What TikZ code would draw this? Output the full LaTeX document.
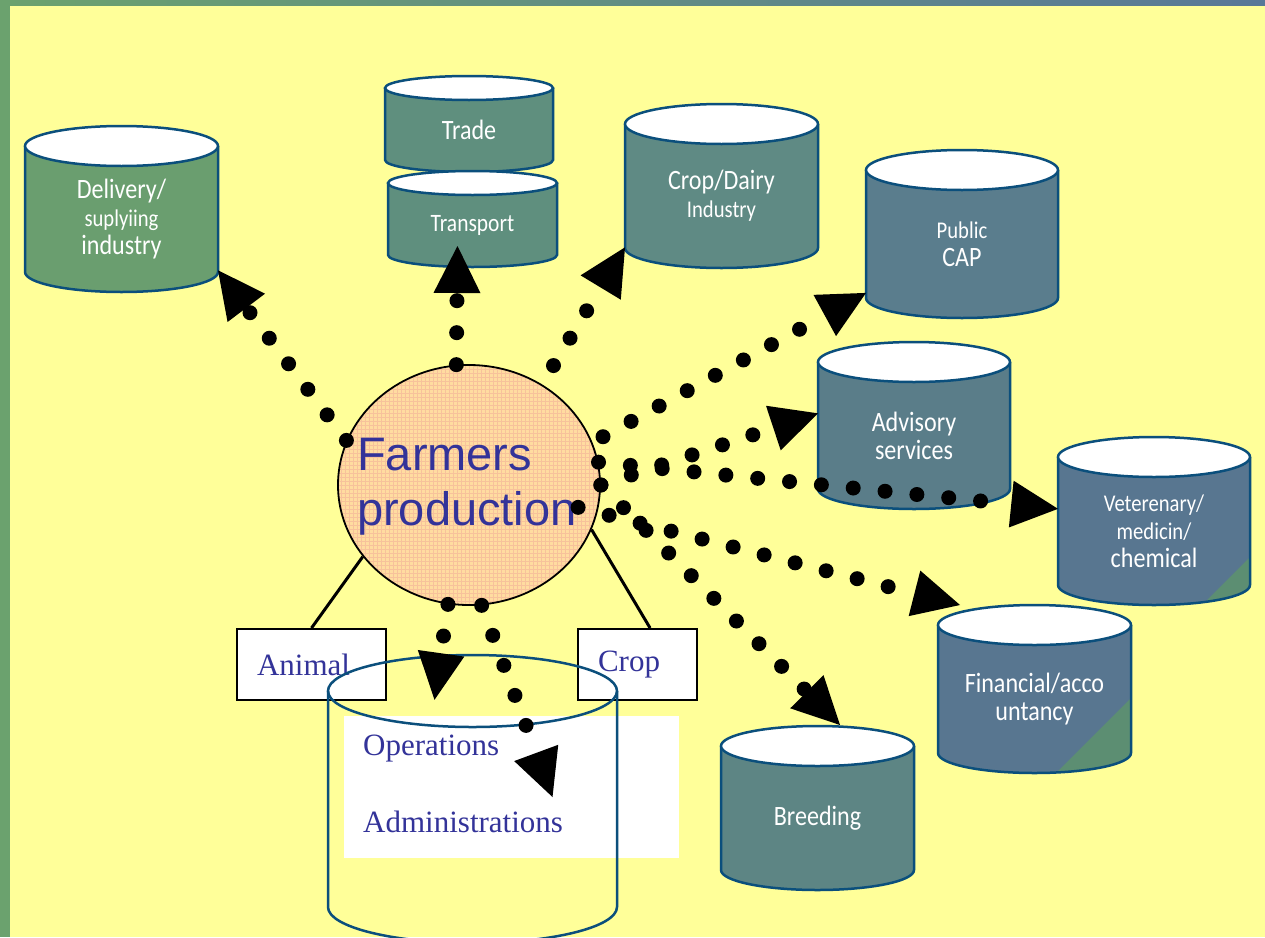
\documentclass[tikz,border=0pt]{standalone}
\usepackage{fontspec}
\setmainfont{Liberation Serif}
\newfontfamily\cylfont[FakeStretch=0.86]{Carlito}
\newfontfamily\arialfont{Liberation Sans}
\usetikzlibrary{shapes.geometric,arrows.meta}

\definecolor{bgyellow}{HTML}{FFFF99}
\definecolor{stripgreen}{HTML}{6BA26E}
\definecolor{stripblue}{HTML}{587898}
\definecolor{cylblue}{HTML}{0B4F7C}
\definecolor{textblue}{HTML}{333399}
\definecolor{delivgreen}{HTML}{6A9E6F}
\definecolor{tradeteal}{HTML}{5F8F7E}
\definecolor{cropteal}{HTML}{5F8A84}
\definecolor{capblue}{HTML}{5A7D8D}
\definecolor{advblue}{HTML}{5A7D89}
\definecolor{vetblue}{HTML}{587690}
\definecolor{breedteal}{HTML}{5D8584}
\definecolor{cornergreen}{HTML}{5C8E72}
\definecolor{farmfill}{HTML}{FFDCA0}
\definecolor{farmgrid}{HTML}{F7C29B}

% cylinder: [extra clipped drawing]{name}{centre x}{x radius}{top centre y}{bottom centre y}{y radius}{body colour}{label}
\newcommand{\cylbox}[9][]{%
  \fill[#8] (#3-#4,#5) -- (#3-#4,#6) arc[start angle=180,end angle=360,x radius=#4pt,y radius=#7pt] -- (#3+#4,#5) -- cycle;
  \begin{scope}
    \clip (#3-#4,#5) -- (#3-#4,#6) arc[start angle=180,end angle=360,x radius=#4pt,y radius=#7pt] -- (#3+#4,#5) -- cycle;
    #1
  \end{scope}
  \draw[cylline] (#3-#4,#5) -- (#3-#4,#6) arc[start angle=180,end angle=360,x radius=#4pt,y radius=#7pt] -- (#3+#4,#5);
  \filldraw[cylline,fill=white] (#3,#5) ellipse[x radius=#4pt,y radius=#7pt];
  \node[cyllabel,minimum width=2*#4pt,minimum height=(#6-#5+#7)*1pt] (#2) at (#3,{(#5+#6+#7)/2}) {#9};
}

\begin{document}
\begin{tikzpicture}[x=1pt,y=-1pt,
  cylline/.style={draw=cylblue,line width=2.5pt},
  cyllabel/.style={inner sep=0pt,outer sep=0pt,text=white,align=center,font=\cylfont\fontsize{28}{28}\selectfont},
  dotarrow/.style={line width=15pt,line cap=round,dash pattern=on 0pt off 32pt,
    -{Triangle[length=47pt,width=47pt,line width=0pt]}},
  labelbox/.style={draw=black,line width=2pt,fill=white,inner xsep=20pt,inner ysep=0pt,
    minimum height=71pt,align=left,text=textblue,font=\fontsize{31}{36}\selectfont},
  sertext/.style={text=textblue,inner sep=0pt,font=\fontsize{31}{36}\selectfont},
  farmtext/.style={text=textblue,inner sep=0pt,font=\arialfont\fontsize{47}{55}\selectfont},
  boxlink/.style={draw=black,line width=3pt}]

\useasboundingbox (0,0) rectangle (1265,937);
\fill[bgyellow] (0,0) rectangle (1265,937);
\shade[left color=stripgreen,right color=stripblue] (0,0) rectangle (1265,5);
\fill[stripgreen] (0,0) rectangle (10,937);

% partner cylinders
\cylbox{deliv}{121.5}{96.5}{146}{272}{20}{delivgreen}{Delivery/\\{\fontsize{24}{28}\selectfont suplyiing}\\industry}
\cylbox{trade}{469}{84}{88}{160}{12}{tradeteal}{Trade}
\cylbox{trans}{472.5}{84.5}{183}{255}{12}{tradeteal}{{\fontsize{25}{28}\selectfont Transport}}
\cylbox{cropdairy}{721.5}{96.5}{124}{248}{20}{cropteal}{Crop/Dairy\\{\fontsize{24}{28}\selectfont Industry}}
\cylbox{cap}{962}{96}{170}{298}{20}{capblue}{{\fontsize{24}{28}\selectfont Public}\\CAP}
\cylbox{advisory}{914}{96}{362}{489}{20}{advblue}{Advisory\\services}
\cylbox[{\fill[cornergreen] (1252,555) -- (1252,630) -- (1177,630) -- cycle;}]{vet}{1154}{96}{457}{585}{20}{vetblue}{{\fontsize{24}{28}\selectfont Veterenary/}\\{\fontsize{24}{28}\selectfont medicin/}\\chemical}
\cylbox[{\fill[cornergreen] (1133,696) -- (1133,790) -- (1039,790) -- cycle;}]{fin}{1034.5}{96.5}{625}{753}{20}{vetblue}{Financial/acco\\untancy}
\cylbox{breeding}{817.5}{96.5}{746}{870}{20}{breedteal}{Breeding}

% the farm
\node[ellipse,draw=black,line width=1.8pt,fill=farmfill,minimum width=262pt,minimum height=240pt,inner sep=0pt,
  path picture={\draw[farmgrid,line width=0.6pt] (path picture bounding box.south west) grid[step=4pt] (path picture bounding box.north east);}]
  (farm) at (469,485) {};
\node[farmtext,anchor=base west] (farmers) at (357,470) {Farmers};
\node[farmtext,anchor=base west] (production) at (357,525) {production};

% production branches
\node[labelbox,text width=109pt] (animal) at (311.5,664.5) {Animal};
\node[labelbox,text width=79pt] (crop) at (637.5,664.5) {Crop};
\draw[boxlink] (farm.214) -- (animal.north);
\draw[boxlink] (farm.-20) -- (crop.71);

% management store
\node[fill=white,inner sep=0pt,minimum width=335pt,minimum height=142pt] (ops) at (511.5,787) {};
\node[sertext,anchor=base west] (operations) at (363,755) {Operations};
\node[sertext,anchor=base west] (administrations) at (363,832) {Administrations};
\draw[cylline] (472.5,691) ellipse[x radius=144.5pt,y radius=36pt];
\draw[cylline] (328,691) -- (328,907) arc[start angle=180,end angle=360,x radius=144.5pt,y radius=36pt] -- (617,691);
\node[inner sep=0pt,minimum width=289pt,minimum height=216pt] (admin) at (472.5,799) {};

% information flows
\draw[dotarrow] (farm.160) -- (deliv.-28);
\draw[dotarrow] (farm.96) -- ([shift={(-15,21)}]trans.center);
\draw[dotarrow,shorten <=22pt] (farm.54) -- (cropdairy.208);
\draw[dotarrow,shorten <=12pt] (farm.19) -- (cap.207);
\draw[dotarrow] (farm.0) -- (advisory.167);
\draw[dotarrow] (farm.10) -- (vet.167);
\draw[dotarrow,shorten <=-20pt] (farm.-12) -- ([shift={(22,-20)}]fin.north west);
\draw[dotarrow] (farm.0) -- ([shift={(22.5,-21)}]breeding.north);
\draw[dotarrow] (farm.-100) -- ([shift={(-38,9)}]admin.north);
\draw[dotarrow] (farm.-84) -- ([shift={(80,-2)}]admin.center);
\end{tikzpicture}
\end{document}
